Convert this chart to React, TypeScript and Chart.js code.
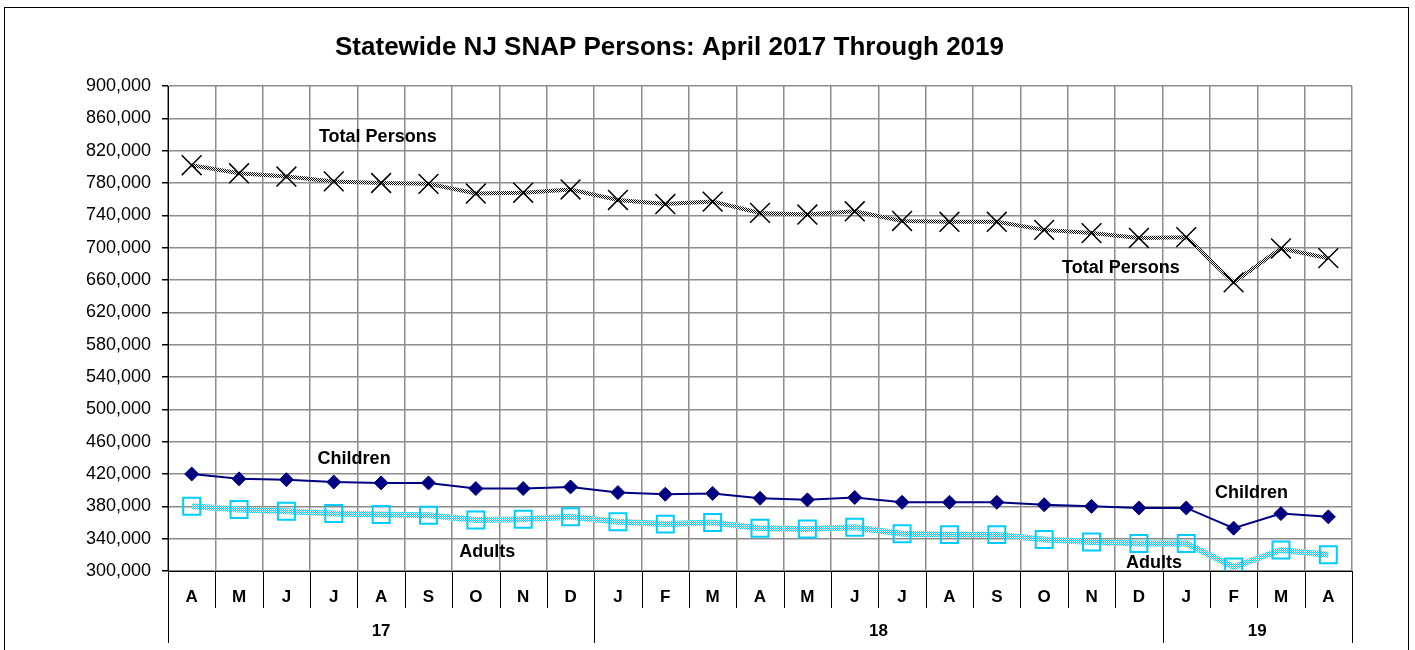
import React, { useEffect, useRef } from 'react';
import { Chart, registerables } from 'chart.js';
Chart.register(...registerables);

const FONT = '"Liberation Sans", Arial, sans-serif';

const title = 'Statewide NJ SNAP Persons: April 2017 Through 2019';
const months = ['A','M','J','J','A','S','O','N','D','J','F','M','A','M','J','J','A','S','O','N','D','J','F','M','A'];
const yearLabels = ['17', '18', '19'];
const yearSpans = [9, 12, 4];

const totalPersons = [802000,792000,788000,782000,780000,779000,767000,768000,772000,759000,754000,757000,743000,741000,745000,733000,732000,732000,722000,718000,712000,713000,657000,699000,687000];
const children = [420000,414000,413000,410000,409000,409000,402000,402000,404000,397000,395000,396000,390000,388000,391000,385000,385000,385000,382000,380000,378000,378000,353000,371000,367000];
const adults = [380000,376000,374000,371000,370000,369000,363000,364000,367000,361000,358000,360000,353000,352000,354000,346000,345000,345000,339000,336000,334000,334000,305000,326000,320000];

const yMin = 300000;
const yMax = 900000;
const yStep = 40000;

// series labels placed in data coordinates (category index, value)
const seriesLabels = [
  { text: 'Total Persons', index: 3.93, value: 837000 },
  { text: 'Total Persons', index: 19.62, value: 675000 },
  { text: 'Children', index: 3.43, value: 438500 },
  { text: 'Children', index: 22.38, value: 396500 },
  { text: 'Adults', index: 6.24, value: 323500 },
  { text: 'Adults', index: 20.32, value: 310000 },
];

function makePattern(c1: string, c2: string) {
  const pc = document.createElement('canvas');
  pc.width = 2;
  pc.height = 2;
  const g = pc.getContext('2d')!;
  g.fillStyle = c2;
  g.fillRect(0, 0, 2, 2);
  g.fillStyle = c1;
  g.fillRect(0, 0, 1, 1);
  g.fillRect(1, 1, 1, 1);
  const ctx = document.createElement('canvas').getContext('2d')!;
  return ctx.createPattern(pc, 'repeat')!;
}

const decorPlugin = {
  id: 'decor',
  afterDraw(chart: any) {
    const ctx = chart.ctx;
    const area = chart.chartArea;
    const xs = chart.scales.x;
    const ys = chart.scales.y;
    ctx.save();
    // outer frame
    ctx.strokeStyle = '#000';
    ctx.lineWidth = 1;
    ctx.strokeRect(4.5, 7.5, 1404, 700);
    // title
    ctx.fillStyle = '#000';
    ctx.font = `bold 26px ${FONT}`;
    ctx.textAlign = 'center';
    ctx.textBaseline = 'middle';
    ctx.fillText(title, 669.5, 48);

    // category axis
    const n = months.length;
    const w = (area.right - area.left) / n;
    const bounds = new Set<number>();
    let acc = 0;
    bounds.add(0);
    yearSpans.forEach((s) => { acc += s; bounds.add(acc); });
    ctx.beginPath();
    for (let i = 0; i <= n; i++) {
      const x = Math.round(area.left + i * w) + 0.5;
      ctx.moveTo(x, area.bottom);
      ctx.lineTo(x, bounds.has(i) ? area.bottom + 72 : area.bottom + 37);
    }
    ctx.strokeStyle = '#000';
    ctx.lineWidth = 1;
    ctx.stroke();
    ctx.beginPath();
    ctx.moveTo(area.left, Math.round(area.bottom) + 0.5);
    ctx.lineTo(area.right, Math.round(area.bottom) + 0.5);
    ctx.stroke();

    ctx.font = `bold 17px ${FONT}`;
    months.forEach((m, i) => {
      ctx.fillText(m, xs.getPixelForValue(i), area.bottom + 26);
    });
    let start = 0;
    yearLabels.forEach((yl, k) => {
      const end = start + yearSpans[k];
      const cx = area.left + ((start + end) / 2) * w;
      ctx.fillText(yl, cx, area.bottom + 60);
      start = end;
    });

    // series labels
    ctx.font = `bold 18px ${FONT}`;
    seriesLabels.forEach((l) => {
      ctx.fillText(l.text, xs.getPixelForValue(l.index), ys.getPixelForValue(l.value));
    });
    ctx.restore();
  },
};

export default function App() {
  const ref = useRef<HTMLCanvasElement>(null);
  useEffect(() => {
    const canvas = ref.current!;
    const blackPattern = makePattern('#000000', '#ffffff');
    const cyanPattern = makePattern('#00ccff', '#ffffff');
    const chart = new Chart(canvas, {
      type: 'line',
      data: {
        labels: months,
        datasets: [
          {
            label: 'Total Persons',
            data: totalPersons,
            borderColor: blackPattern as any,
            borderWidth: 4,
            pointStyle: 'crossRot',
            pointRadius: 14,
            pointBorderColor: '#000',
            pointBorderWidth: 1.5,
            pointBackgroundColor: 'transparent',
            tension: 0,
          },
          {
            label: 'Children',
            data: children,
            borderColor: '#000080',
            borderWidth: 2,
            pointStyle: 'rectRot',
            pointRadius: 7,
            pointBorderColor: '#000080',
            pointBackgroundColor: '#000080',
            pointBorderWidth: 1,
            tension: 0,
          },
          {
            label: 'Adults',
            data: adults,
            borderColor: cyanPattern as any,
            borderWidth: 6,
            pointStyle: 'rect',
            pointRadius: 12,
            pointBorderColor: '#00ccff',
            pointBackgroundColor: 'transparent',
            pointBorderWidth: 2,
            tension: 0,
          },
        ],
      },
      options: {
        responsive: false,
        animation: false,
        layout: { padding: { left: 0, right: 63, top: 86, bottom: 79 } },
        plugins: {
          legend: { display: false },
          tooltip: { enabled: false },
          title: { display: false },
        },
        scales: {
          x: {
            type: 'category',
            offset: true,
            grid: { offset: true, color: '#8c8c8c', lineWidth: 1.5, drawTicks: false },
            border: { display: false },
            ticks: { display: false },
            afterFit: (s: any) => { s.height = 0; },
          },
          y: {
            min: yMin,
            max: yMax,
            grid: { color: '#8c8c8c', lineWidth: 1.5, tickLength: 6, tickColor: '#000' },
            border: { color: '#000', width: 1 },
            ticks: {
              stepSize: yStep,
              padding: 11,
              color: '#000',
              font: { family: FONT, size: 18 },
              callback: (v: any) => Number(v).toLocaleString('en-US'),
            },
            afterFit: (s: any) => { s.width = 168; },
          },
        },
      },
      plugins: [decorPlugin],
    });
    return () => chart.destroy();
  }, []);
  return (
    <div style={{ position: 'fixed', left: 0, top: 0, width: 1415, height: 650, background: '#fff' }}>
      <canvas ref={ref} width={1415} height={650} style={{ display: 'block' }} />
    </div>
  );
}
